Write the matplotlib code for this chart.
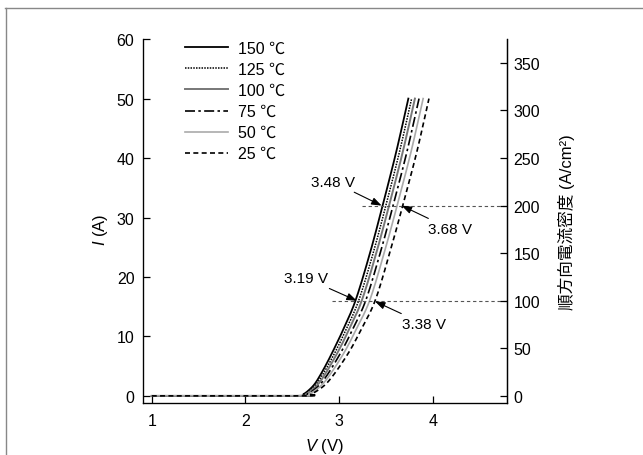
import numpy as np
import matplotlib.pyplot as plt
from matplotlib.lines import Line2D

plt.rcParams['font.family'] = ['Liberation Sans', 'Noto Sans CJK JP', 'DejaVu Sans']
plt.rcParams['mathtext.fontset'] = 'custom'
plt.rcParams['mathtext.it'] = 'Liberation Sans:italic'
plt.rcParams['mathtext.rm'] = 'Liberation Sans'

#%% data
# current points (A), shared by all curves; first point is the flat start at 1 V
I_pts = [0, 0, 0.3, 1, 2, 3.5, 5.5, 8, 11, 16, 24, 32, 41, 50]

V_150 = [1.0, 2.55, 2.62, 2.68, 2.74, 2.80, 2.87, 2.95, 3.04, 3.175, 3.33, 3.465, 3.61, 3.74]
V_125 = [1.0, 2.56, 2.633, 2.696, 2.759, 2.822, 2.896, 2.979, 3.07, 3.209, 3.364, 3.50, 3.645, 3.775]
V_100 = [1.0, 2.572, 2.646, 2.712, 2.778, 2.845, 2.921, 3.008, 3.101, 3.242, 3.397, 3.534, 3.68, 3.81]
V_75 = [1.0, 2.586, 2.662, 2.732, 2.802, 2.873, 2.953, 3.044, 3.139, 3.284, 3.439, 3.577, 3.724, 3.854]
V_50 = [1.0, 2.60, 2.678, 2.752, 2.826, 2.90, 2.985, 3.08, 3.177, 3.326, 3.481, 3.62, 3.768, 3.898]
V_25 = [1.0, 2.62, 2.70, 2.78, 2.86, 2.94, 3.03, 3.13, 3.23, 3.385, 3.54, 3.68, 3.83, 3.96]

labels = ['150 ℃', '125 ℃', '100 ℃', '75 ℃', '50 ℃', '25 ℃']

# reference levels (A) and where their dashed lines start (V)
ref_I = [16, 32]
ref_V0 = [2.93, 3.25]

# annotations: text, point (V, I), text position (V, I), alignment
ann_text = ['3.48 V', '3.68 V', '3.19 V', '3.38 V']
ann_xy = [(3.455, 32.0), (3.668, 32.0), (3.19, 16.0), (3.383, 15.9)]
ann_txt = [(3.17, 36.0), (3.95, 28.1), (2.884, 19.8), (3.668, 12.1)]
ann_ha = ['right', 'left', 'right', 'left']

area_factor = 6.25  # A -> A/cm2


def smooth(xs, ys, n=20):
    # Catmull-Rom through the read points, just for drawing
    p = np.column_stack([xs, ys]).astype(float)
    p = np.vstack([p[0], p, p[-1]])
    out = []
    t = np.linspace(0, 1, n, endpoint=False)[:, None]
    for i in range(1, len(p) - 2):
        p0, p1, p2, p3 = p[i - 1], p[i], p[i + 1], p[i + 2]
        seg = 0.5 * ((2 * p1) + (-p0 + p2) * t + (2 * p0 - 5 * p1 + 4 * p2 - p3) * t ** 2
                     + (-p0 + 3 * p1 - 3 * p2 + p3) * t ** 3)
        out.append(seg)
    out.append(p[-2][None, :])
    out = np.vstack(out)
    return out[:, 0], out[:, 1]


#%% plot
fig = plt.figure(figsize=(6.43, 4.56), dpi=100)
ax = fig.add_axes([0.222, 0.114, 0.566, 0.798])

styles = [
    dict(color='black', lw=1.3, ls='-'),
    dict(color='black', lw=1.1, ls=(0, (1, 0.8))),
    dict(color='#777777', lw=1.4, ls='-'),
    dict(color='black', lw=1.2, ls=(0, (6, 2, 1.5, 2))),
    dict(color='#aaaaaa', lw=1.2, ls='-'),
    dict(color='black', lw=1.2, ls=(0, (3, 2))),
]
for V, lab, st in zip([V_150, V_125, V_100, V_75, V_50, V_25], labels, styles):
    xs, ys = smooth(V, I_pts)
    ax.plot(xs, ys, label=lab, **st)

xmin, xmax = 0.904, 4.79
ax.set_xlim(xmin, xmax)
ax.set_ylim(-1.2, 60)

for yi, x0 in zip(ref_I, ref_V0):
    ax.plot([x0, xmax], [yi, yi], color='#555555', lw=0.8, ls=(0, (3, 2.5)), clip_on=False)

for t, xy, xt, ha in zip(ann_text, ann_xy, ann_txt, ann_ha):
    ax.annotate(t, xy=xy, xytext=xt, ha=ha, va='center', fontsize=11,
                arrowprops=dict(arrowstyle='-|>,head_length=0.55,head_width=0.2',
                                color='black', lw=0.8, shrinkA=1, shrinkB=0))

ax.set_xticks([1, 2, 3, 4])
ax.set_yticks(np.arange(0, 61, 10))
ax.tick_params(direction='in', length=5, width=0.9, labelsize=11.5, colors='black')
ax.tick_params(axis='x', pad=7)
ax.tick_params(axis='y', pad=6)
ax.spines['top'].set_visible(False)
for s in ['left', 'bottom', 'right']:
    ax.spines[s].set_linewidth(0.9)

ax.set_xlabel('$V$ (V)', fontsize=12)
ax.xaxis.set_label_coords(0.5, -0.09)
ax.set_ylabel('$I$ (A)', fontsize=12)
ax.yaxis.set_label_coords(-0.09, 0.48)

ax2 = ax.twinx()
ax2.set_ylim(-1.2 * area_factor, 60 * area_factor)
ax2.set_yticks(np.arange(0, 351, 50))
ax2.tick_params(direction='in', length=5, width=0.9, labelsize=11.5, pad=5)
ax2.spines['top'].set_visible(False)
ax2.spines['right'].set_linewidth(0.9)
ax2.set_ylabel('順方向電流密度 (A/cm²)', fontsize=12)
ax2.yaxis.set_label_coords(1.142, 0.5)

ax.legend(loc='upper left', bbox_to_anchor=(0.116, 0.995), frameon=False,
          borderaxespad=0, borderpad=0, handlelength=2.7, handletextpad=0.6,
          labelspacing=0.38, fontsize=11.5)

# gray frame of the figure
fig.add_artist(Line2D([5 / 643, 1], [0.980, 0.980], color='#888888', lw=1.0))
fig.add_artist(Line2D([6 / 643, 6 / 643], [0, 0.980], color='#888888', lw=1.0))

plt.savefig('out.png', dpi=100)
